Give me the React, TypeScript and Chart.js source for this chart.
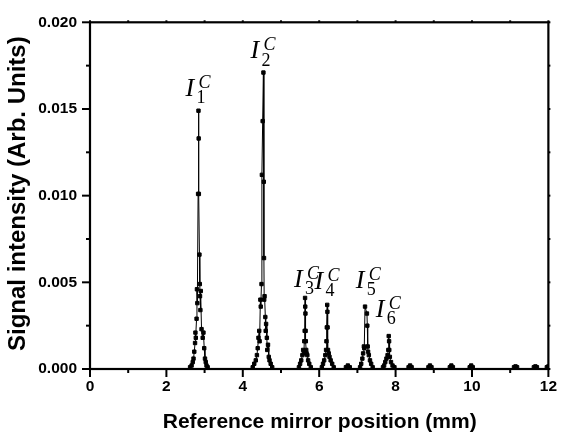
import React, { useEffect, useRef } from "react";
import { Chart, registerables } from "chart.js";

Chart.register(...registerables);

// ---- Data (reference mirror position in mm, signal intensity in arb. units) ----
const peak1Pos = [2.55, 2.62, 2.66, 2.69, 2.71, 2.73, 2.75, 2.76, 2.77, 2.79, 2.8, 2.81, 2.83, 2.84, 2.845, 2.85, 2.865, 2.875, 2.88, 2.89, 2.9, 2.92, 2.95, 2.97, 2.99, 3.01, 3.03, 3.05, 3.08, 3.12];
const peak1Sig = [0, 0.0001, 0.0002, 0.0004, 0.0006, 0.001, 0.0015, 0.0021, 0.0018, 0.0029, 0.0046, 0.0038, 0.0101, 0.0149, 0.0133, 0.0101, 0.0066, 0.0049, 0.0042, 0.0034, 0.0045, 0.0023, 0.0018, 0.0021, 0.0012, 0.0006, 0.0004, 0.0002, 0.0001, 0];

const peak2Pos = [4.2, 4.26, 4.3, 4.34, 4.37, 4.39, 4.41, 4.43, 4.44, 4.46, 4.47, 4.49, 4.5, 4.52, 4.54, 4.55, 4.555, 4.56, 4.57, 4.59, 4.6, 4.61, 4.63, 4.64, 4.66, 4.68, 4.7, 4.73, 4.77, 4.82];
const peak2Sig = [0, 0.0001, 0.0003, 0.0005, 0.0008, 0.0012, 0.0018, 0.0022, 0.0016, 0.004, 0.0036, 0.0049, 0.0112, 0.0143, 0.0171, 0.0108, 0.0064, 0.004, 0.0042, 0.003, 0.0022, 0.0026, 0.0018, 0.0011, 0.0014, 0.0007, 0.0005, 0.0003, 0.0001, 0];

const peak3Pos = [5.42, 5.47, 5.5, 5.53, 5.56, 5.58, 5.6, 5.61, 5.62, 5.63, 5.635, 5.64, 5.645, 5.65, 5.66, 5.67, 5.69, 5.71, 5.74, 5.78, 5.83];
const peak3Sig = [0, 0.0001, 0.0003, 0.0005, 0.0008, 0.0011, 0.0009, 0.0016, 0.0022, 0.0041, 0.0036, 0.0032, 0.0022, 0.0016, 0.0011, 0.0009, 0.0008, 0.0005, 0.0003, 0.0001, 0];

const peak4Pos = [6.02, 6.07, 6.1, 6.13, 6.16, 6.18, 6.19, 6.2, 6.21, 6.215, 6.22, 6.23, 6.25, 6.27, 6.3, 6.34, 6.38, 6.43];
const peak4Sig = [0, 0.0001, 0.0003, 0.0005, 0.0008, 0.0011, 0.0016, 0.0024, 0.0037, 0.0033, 0.0024, 0.0011, 0.0009, 0.0007, 0.0005, 0.0003, 0.0001, 0];

const bumpAPos = [6.62, 6.7, 6.75, 6.8, 6.88];
const bumpASig = [0, 0.0001, 0.0002, 0.0001, 0];

const peak5Pos = [7.02, 7.07, 7.1, 7.13, 7.15, 7.17, 7.18, 7.2, 7.25, 7.26, 7.27, 7.28, 7.3, 7.33, 7.36, 7.4, 7.45];
const peak5Sig = [0, 0.0001, 0.0003, 0.0006, 0.0009, 0.0013, 0.0012, 0.0036, 0.0032, 0.0025, 0.0013, 0.001, 0.0008, 0.0005, 0.0003, 0.0001, 0];

const peak6Pos = [7.62, 7.67, 7.7, 7.73, 7.76, 7.79, 7.81, 7.82, 7.83, 7.835, 7.85, 7.88, 7.92, 7.97, 8.02];
const peak6Sig = [0, 0.0001, 0.0002, 0.0004, 0.0006, 0.0008, 0.0011, 0.0019, 0.0016, 0.0011, 0.0007, 0.0004, 0.0002, 0.0001, 0];

const tailPos = [8.28, 8.34, 8.38, 8.42, 8.5, 8.8, 8.86, 8.9, 8.94, 9.0, 9.36, 9.42, 9.46, 9.5, 9.56, 9.88, 9.94, 9.98, 10.02, 10.08, 11.04, 11.1, 11.14, 11.18, 11.24, 11.56, 11.62, 11.66, 11.7, 11.76, 11.92, 11.96, 12.0];
const tailSig = [0, 0.0001, 0.0002, 0.0001, 0, 0, 0.0001, 0.0002, 0.0001, 0, 0, 0.0001, 0.0002, 0.0001, 0, 0, 0.0001, 0.0002, 0.0001, 0, 0, 0.0001, 0.00015, 0.0001, 0, 0, 0.0001, 0.00015, 0.0001, 0, 0, 0.0001, 0.00015];

// tick values
const xTicks = [0, 2, 4, 6, 8, 10, 12];
const yTicks = [0, 0.005, 0.01, 0.015, 0.02];

// peak labels I_n^C (anchored in data coordinates)
const peakNames = ["1", "2", "3", "4", "5", "6"];
const labelPos = [2.5, 4.2, 5.34, 5.88, 6.96, 7.48];
const labelSig = [0.01577, 0.01792, 0.00475, 0.00464, 0.00469, 0.003];

const xTitle = "Reference mirror position (mm)";
const yTitle = "Signal intensity (Arb. Units)";

const segments: [number[], number[]][] = [
  [peak1Pos, peak1Sig],
  [peak2Pos, peak2Sig],
  [peak3Pos, peak3Sig],
  [peak4Pos, peak4Sig],
  [bumpAPos, bumpASig],
  [peak5Pos, peak5Sig],
  [peak6Pos, peak6Sig],
  [tailPos, tailSig],
];

const SANS = '"Liberation Sans", Arial, sans-serif';
const SERIF = '"Liberation Serif", "Times New Roman", serif';

const framePlugin = {
  id: "frame",
  afterDatasetsDraw(chart: any) {
    const { ctx, chartArea: a, scales } = chart;
    const x = scales.x;
    const y = scales.y;
    ctx.save();
    ctx.strokeStyle = "#000";
    ctx.fillStyle = "#000";
    ctx.lineCap = "butt";

    // ticks
    ctx.lineWidth = 2;
    const line = (x1: number, y1: number, x2: number, y2: number) => {
      ctx.beginPath();
      ctx.moveTo(x1, y1);
      ctx.lineTo(x2, y2);
      ctx.stroke();
    };
    for (let i = 0; i <= 8; i++) {
      const v = i * 0.0025;
      const py = y.getPixelForValue(v);
      const major = i % 2 === 0;
      line(a.left - (major ? 8 : 4), py, a.left, py);
      line(a.right, py, a.right + 2, py);
    }
    for (let i = 0; i <= 12; i++) {
      const px = x.getPixelForValue(i);
      const major = i % 2 === 0;
      line(px, a.bottom, px, a.bottom + (major ? 8 : 4));
      line(px, a.top - 2, px, a.top);
    }

    // frame
    ctx.lineWidth = 2.2;
    ctx.strokeRect(a.left, a.top, a.right - a.left, a.bottom - a.top);

    // peak labels
    ctx.textBaseline = "alphabetic";
    ctx.textAlign = "left";
    for (let i = 0; i < peakNames.length; i++) {
      const px = x.getPixelForValue(labelPos[i]);
      const py = y.getPixelForValue(labelSig[i]);
      ctx.font = `italic 26px ${SERIF}`;
      ctx.fillText("I", px, py);
      ctx.font = `italic 18px ${SERIF}`;
      ctx.fillText("C", px + 13, py - 8);
      ctx.font = `18px ${SERIF}`;
      ctx.fillText(peakNames[i], px + 11, py + 7.5);
    }

    // axis titles
    ctx.font = `bold 21px ${SANS}`;
    ctx.textAlign = "center";
    ctx.fillText(xTitle, (a.left + a.right) / 2 + 0.5, 427.5);
    ctx.save();
    ctx.translate(25, (a.top + a.bottom) / 2 - 2);
    ctx.rotate(-Math.PI / 2);
    ctx.font = `bold 24px ${SANS}`;
    ctx.fillText(yTitle, 0, 0);
    ctx.restore();

    ctx.restore();
  },
};

export default function App() {
  const ref = useRef<HTMLCanvasElement | null>(null);

  useEffect(() => {
    if (!ref.current) return;
    const points: { x: number; y: number }[] = [];
    for (const [pos, sig] of segments) {
      for (let i = 0; i < pos.length; i++) points.push({ x: pos[i], y: sig[i] });
    }
    const chart = new Chart(ref.current, {
      type: "line",
      data: {
        datasets: [
          {
            data: points,
            borderColor: "#000",
            borderWidth: 1,
            backgroundColor: "#000",
            pointStyle: "rect",
            pointRadius: (c: any) => (c.raw && c.raw.y === 0 ? 0 : 2.4),
            pointBorderWidth: 1,
            pointBorderColor: "#000",
            pointBackgroundColor: "#000",
            tension: 0,
          },
        ],
      },
      options: {
        animation: false,
        responsive: false,
        maintainAspectRatio: false,
        layout: { padding: { top: 15, right: 9.5, left: 0, bottom: 0 } },
        plugins: {
          legend: { display: false },
          tooltip: { enabled: false },
          title: { display: false },
        },
        scales: {
          x: {
            type: "linear",
            min: 0,
            max: 12,
            afterFit: (s: any) => {
              s.height = 67;
            },
            afterBuildTicks: (s: any) => {
              s.ticks = xTicks.map((v) => ({ value: v }));
            },
            grid: { display: false, drawTicks: false },
            border: { display: false },
            ticks: {
              padding: 8,
              color: "#000",
              font: { family: SANS, size: 15.5, weight: "bold" },
              maxRotation: 0,
              autoSkip: false,
              callback: (v: any) => String(v),
            },
          },
          y: {
            type: "linear",
            min: 0,
            max: 0.02,
            afterFit: (s: any) => {
              s.width = 90;
            },
            afterBuildTicks: (s: any) => {
              s.ticks = yTicks.map((v) => ({ value: v }));
            },
            grid: { display: false, drawTicks: false },
            border: { display: false },
            ticks: {
              padding: 13,
              color: "#000",
              font: { family: SANS, size: 15.5, weight: "bold" },
              autoSkip: false,
              callback: (v: any) => Number(v).toFixed(3),
            },
          },
        },
      },
      plugins: [framePlugin],
    });
    return () => chart.destroy();
  }, []);

  return (
    <div style={{ position: "absolute", left: 0, top: 0, width: 565, height: 436, background: "#fff" }}>
      <canvas ref={ref} width={565} height={436} style={{ display: "block" }} />
    </div>
  );
}
